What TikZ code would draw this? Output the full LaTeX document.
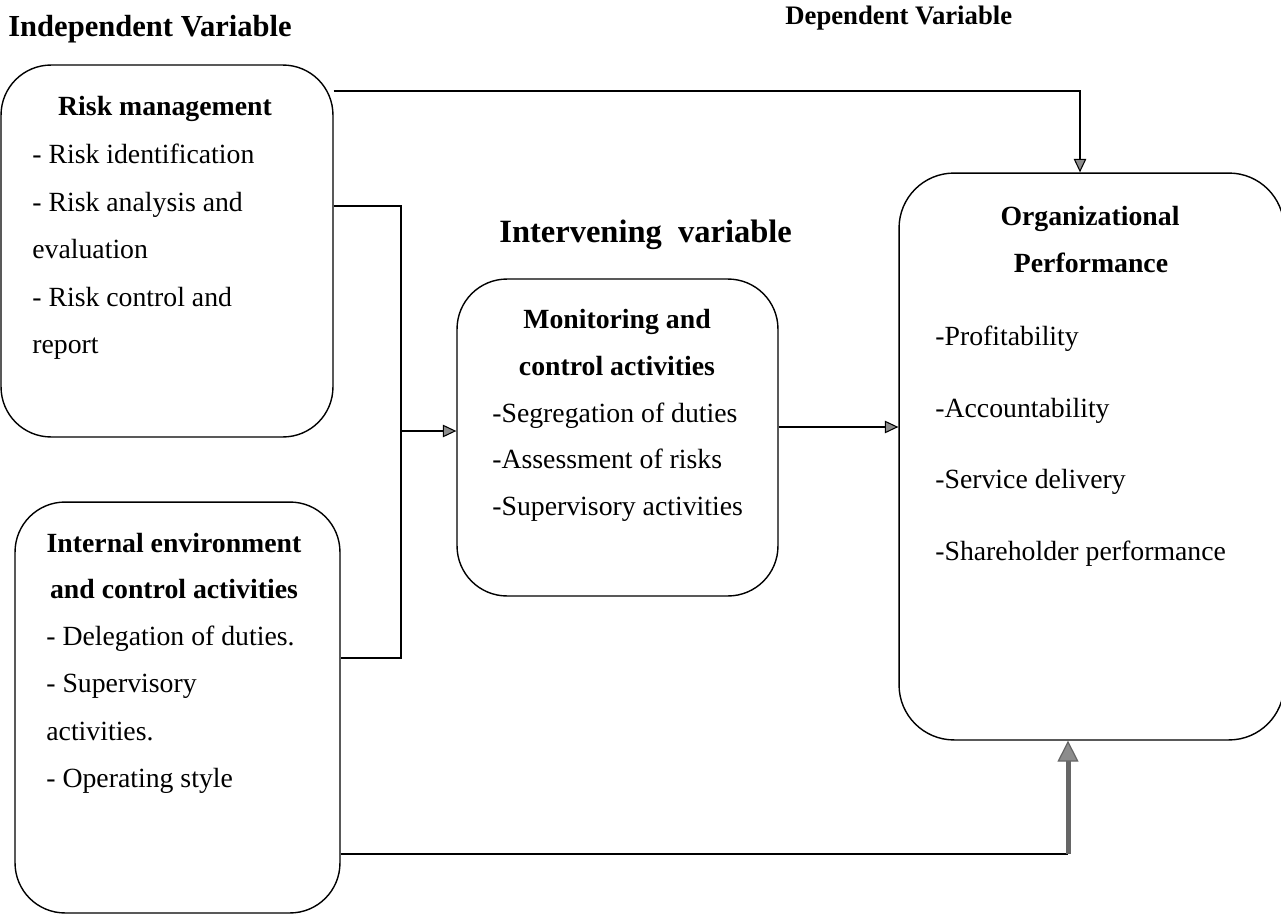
\documentclass[tikz,border=0pt]{standalone}
\usepackage{fontspec}
\setmainfont{Liberation Serif}
\usetikzlibrary{arrows.meta}
\newcommand\bodyfs{\fontsize{15.8pt}{27pt}\selectfont}
\tikzset{
  box/.style={draw=black, line width=0.8pt, rounded corners=1cm, inner sep=0pt},
  txt/.style={anchor=base west, inner sep=0pt, font=\bodyfs},
  hd/.style={anchor=base, inner sep=0pt, font=\bodyfs\bfseries},
  conn/.style={draw=black, line width=0.8pt},
  arr/.style={conn, -{Triangle[width=0.25cm,length=0.27cm,fill=black!45,line width=0.6pt]}},
  thickarr/.style={draw=black!60, line width=0.1cm, -{Triangle[width=0.42cm,length=0.42cm,fill=black!45,line width=0.7pt]}}
}
\begin{document}
\begin{tikzpicture}[x=0.02cm,y=-0.02cm]
\useasboundingbox (0,0) rectangle (1281,916);
% titles
\node[anchor=base west, inner sep=0pt, font=\fontsize{17.4pt}{20pt}\selectfont\bfseries] (tind) at (8,36) {Independent Variable};
\node[anchor=base west, inner sep=0pt, font=\fontsize{15.2pt}{18pt}\selectfont\bfseries] (tdep) at (785,24) {Dependent Variable};
\node[anchor=base west, inner sep=0pt, font=\fontsize{18.5pt}{22pt}\selectfont\bfseries] (tint) at (499,242) {Intervening~~variable};
% boxes
\node[box, minimum width=6.64cm, minimum height=7.44cm] (b1) at (167,251) {};
\node[box, minimum width=6.5cm, minimum height=8.22cm] (b2) at (177.5,707.5) {};
\node[box, minimum width=6.42cm, minimum height=6.34cm] (b3) at (617.5,437.5) {};
\node[box, rounded corners=1.1cm, minimum width=7.7cm, minimum height=11.34cm] (b4) at (1091.5,456.5) {};
% box 1 text
\node[hd] (b1h) at (165,115) {Risk management};
\node[txt] (b1l1) at (32,163) {- Risk identification};
\node[txt] (b1l2) at (32,211) {- Risk analysis and};
\node[txt] (b1l3) at (32,258) {evaluation};
\node[txt] (b1l4) at (32,306) {- Risk control and};
\node[txt] (b1l5) at (32,353) {report};
% box 2 text
\node[hd] (b2h1) at (174,552) {Internal environment};
\node[hd] (b2h2) at (174,598) {and control activities};
\node[txt] (b2l1) at (46,645) {- Delegation of duties.};
\node[txt] (b2l2) at (46,692) {- Supervisory};
\node[txt] (b2l3) at (46,740) {activities.};
\node[txt] (b2l4) at (46,787) {- Operating style};
% box 3 text
\node[hd] (b3h1) at (617,328) {Monitoring and};
\node[hd] (b3h2) at (617,375) {control activities};
\node[txt] (b3l1) at (492,422) {-Segregation of duties};
\node[txt] (b3l2) at (492,468) {-Assessment of risks};
\node[txt] (b3l3) at (492,515) {-Supervisory activities};
% box 4 text
\node[hd] (b4h1) at (1090,225) {Organizational};
\node[hd] (b4h2) at (1091,272) {Performance};
\node[txt] (b4l1) at (935,345) {-Profitability};
\node[txt] (b4l2) at (935,417) {-Accountability};
\node[txt] (b4l3) at (935,488) {-Service delivery};
\node[txt] (b4l4) at (935,560) {-Shareholder performance};
% connector coordinates
\coordinate (c1) at (1080,91);
\coordinate (c2a) at (401,206);
\coordinate (c2b) at (401,658);
\coordinate (c2m) at (401,431);
\coordinate (c3) at (777,427);
\coordinate (c4) at (1068,854);
% connectors
\draw[arr] (c1 -| b1.east) -- (c1) -- (c1 |- b4.north);
\draw[conn] (c2a -| b1.east) -- (c2a) -- (c2b) -- (c2b -| b2.east);
\draw[arr] (c2m) -- (c2m -| b3.west);
\draw[arr] (c3 -| b3.east) -- (c3 -| b4.west);
\draw[conn] (c4 -| b2.east) -- (c4);
\draw[thickarr] (c4) -- (c4 |- b4.south);
\end{tikzpicture}
\end{document}
